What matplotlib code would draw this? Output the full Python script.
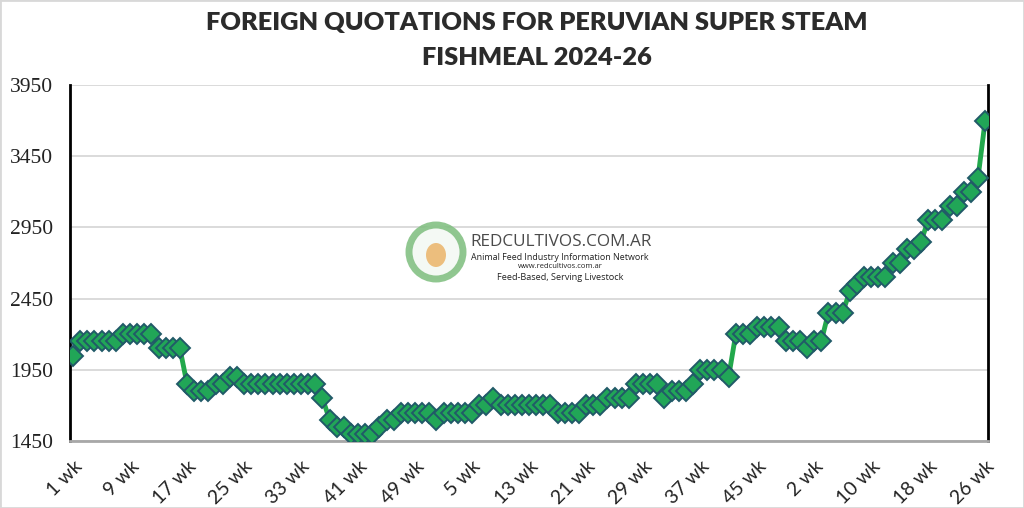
import matplotlib.pyplot as plt
import matplotlib.patches as mpatches

# weekly quotations, 2024 wk1-52, 2025 wk1-51, 2026 wk1-26
prices = [2050, 2150, 2150, 2150, 2150, 2150, 2150, 2200, 2200, 2200,
          2200, 2200, 2100, 2100, 2100, 2100, 1850, 1800, 1800, 1800,
          1850, 1850, 1900, 1900,
          1850, 1850, 1850, 1850, 1850, 1850, 1850, 1850, 1850, 1850, 1850,
          1750, 1600, 1550, 1550, 1500, 1500, 1500, 1500, 1550, 1600,
          1600, 1650, 1650, 1650, 1650, 1650, 1600,
          1650, 1650, 1650, 1650, 1650, 1700, 1700, 1750,
          1700, 1700, 1700, 1700, 1700, 1700, 1700, 1700,
          1650, 1650, 1650, 1650, 1700, 1700, 1700,
          1750, 1750, 1750, 1750, 1850, 1850, 1850, 1850,
          1750, 1800, 1800, 1800, 1850, 1950, 1950, 1950, 1950, 1900,
          2200, 2200, 2200, 2250, 2250, 2250, 2250, 2150, 2150, 2150,
          2100, 2150, 2150, 2350, 2350, 2350, 2500, 2550,
          2600, 2600, 2600, 2600, 2700, 2700, 2800, 2800, 2850,
          3000, 3000, 3000, 3100, 3100, 3200, 3200, 3300, 3700]
weeks = list(range(1, 53)) + list(range(1, 52)) + list(range(1, 27))
tick_step = 8
y_ticks = [1450, 1950, 2450, 2950, 3450, 3950]

fig = plt.figure(figsize=(10.24, 5.08), dpi=100)
ax = fig.add_axes([0.0684, 0.1319, 0.8966, 0.7008])

x = list(range(len(prices)))
ax.plot(x, prices, color='#22a84c', lw=3.5, marker='D', markersize=10.5,
        markerfacecolor='#21a657', markeredgecolor='#215a68',
        markeredgewidth=1.4, zorder=3)

ax.set_xlim(-0.42, len(prices) - 1 + 0.42)
ax.set_ylim(1450, 3950)
ax.set_yticks(y_ticks)
ax.set_yticklabels([str(v) for v in y_ticks], family='Liberation Serif',
                   fontsize=15.5, color='#222222')
pos = x[::tick_step]
ax.set_xticks(pos)
ax.set_xticklabels([f'{weeks[i]} wk' for i in pos], rotation=45, ha='right',
                   rotation_mode='anchor', family='Lato', fontsize=14,
                   color='#222222')
ax.tick_params(axis='y', length=0, pad=12)
ax.tick_params(axis='x', length=0, pad=12)
ax.grid(axis='y', color='#d4d4d4', lw=1.2, zorder=0)
ax.set_axisbelow(True)
ax.spines['top'].set_visible(False)
ax.spines['left'].set_color('black')
ax.spines['left'].set_linewidth(2)
ax.spines['right'].set_color('black')
ax.spines['right'].set_linewidth(2)
ax.spines['bottom'].set_color('#a8a8a8')
ax.spines['bottom'].set_linewidth(2)

fig.text(0.524, 0.955, 'FOREIGN QUOTATIONS FOR PERUVIAN SUPER STEAM',
         ha='center', va='center', family='Lato', fontweight='heavy',
         fontsize=18.3, color='#2b2b2b')
fig.text(0.524, 0.885, 'FISHMEAL 2024-26', ha='center', va='center',
         family='Lato', fontweight='heavy', fontsize=18.3, color='#2b2b2b')

# watermark (ellipse sized in figure fraction so it comes out round)
fig.patches.append(mpatches.Ellipse((436 / 1024, 1 - 252 / 508), 54 / 1024, 54 / 508,
                                    transform=fig.transFigure, facecolor='#f3f8f3',
                                    edgecolor='#7dbd7d', lw=5, alpha=0.85))
fig.patches.append(mpatches.Ellipse((436 / 1024, 1 - 255 / 508), 20 / 1024, 24 / 508,
                                    transform=fig.transFigure,
                                    facecolor='#eab060', edgecolor='none', alpha=0.8))
fig.text(0.459, 1 - 242 / 508, 'REDCULTIVOS.COM.AR', family='Open Sans',
         fontsize=12.3, color='#4a4a4a', va='center', ha='left')
fig.text(0.547, 1 - 257 / 508, 'Animal Feed Industry Information Network',
         family='Open Sans', fontsize=6.4, color='#222222', va='center', ha='center')
fig.text(0.547, 1 - 267 / 508, 'www.redcultivos.com.ar', family='Open Sans',
         fontsize=5.5, color='#222222', va='center', ha='center')
fig.text(0.547, 1 - 277 / 508, 'Feed-Based, Serving Livestock', family='Open Sans',
         fontsize=6.6, color='#222222', va='center', ha='center')

# faint frame around the picture
fig.patches.append(mpatches.Rectangle((0, 0), 1, 1, transform=fig.transFigure,
                                      fill=False, edgecolor='#d8d8d8', lw=2))

fig.savefig('out.png', dpi=100)
